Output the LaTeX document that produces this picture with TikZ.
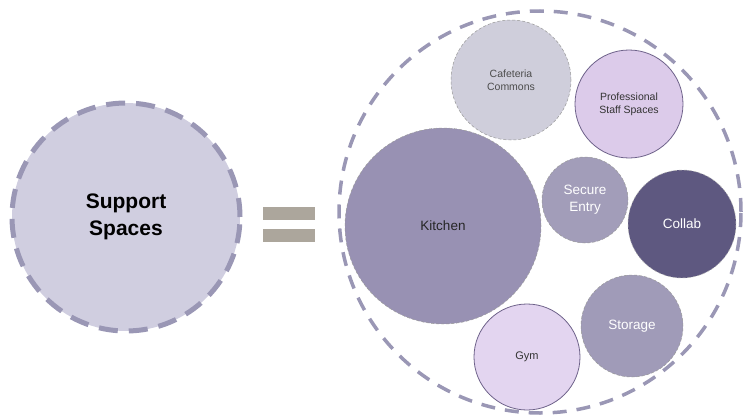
\documentclass[tikz,border=0pt]{standalone}
\usepackage{fontspec}
\setmainfont{Liberation Sans}
\usetikzlibrary{positioning}
\definecolor{ringpurple}{HTML}{9A97B5}
\definecolor{supportfill}{HTML}{D0CEE0}
\definecolor{eqgray}{HTML}{ACA69C}
\definecolor{edgepurple}{HTML}{6E628A}
\definecolor{cafefill}{HTML}{CFCEDB}
\definecolor{stafffill}{HTML}{DCCBEA}
\definecolor{kitchenfill}{HTML}{9891B3}
\definecolor{entryfill}{HTML}{A29DB9}
\definecolor{collabfill}{HTML}{5E5880}
\definecolor{storagefill}{HTML}{A09BB8}
\definecolor{gymfill}{HTML}{E3D5F0}
\begin{document}
\begin{tikzpicture}[x=1pt, y=-1pt,
    space/.style={circle, inner sep=0pt, align=center, font=\fontsize{10.5}{13}\selectfont},
    loose/.style={space, draw=gray!80, densely dashed, line width=0.5pt},
    solid edge/.style={space, draw=edgepurple, line width=0.8pt},
    big text/.style={font=\fontsize{13.5}{17}\selectfont},
    bar/.style={rectangle, fill=eqgray, inner sep=0pt, minimum width=52pt, minimum height=13pt}]
  \useasboundingbox (0,0) rectangle (744,420);
  % left side
  \node[circle, minimum size=228pt, fill=supportfill, draw=ringpurple, line width=5pt,
    dash pattern=on 19pt off 11pt, align=center, font=\fontsize{21}{27}\selectfont\bfseries]
    (support) at (126,217) {Support\\Spaces};
  \node[bar] (eqtop) at (289,213.5) {};
  \node[bar, below=9pt of eqtop] (eqbot) {};
  % right side
  \node[circle, minimum size=402pt, draw=ringpurple, line width=3.5pt,
    dash pattern=on 14pt off 10pt] (whole) at (540,212) {};
  \node[loose, minimum size=120pt, fill=cafefill, text=black!70]
    (cafeteria) at (511,80) {Cafeteria\\Commons};
  \node[solid edge, minimum size=108pt, fill=stafffill, text=black!80]
    (staff) at (629,104) {Professional\\Staff Spaces};
  \node[loose, minimum size=196pt, fill=kitchenfill, text=black!85, big text]
    (kitchen) at (443,226) {Kitchen};
  \node[loose, minimum size=86pt, fill=entryfill, text=white, big text]
    (entry) at (585,200) {Secure\\Entry};
  \node[loose, minimum size=108pt, fill=collabfill, draw=gray!60, text=white, big text]
    (collab) at (682,224) {Collab};
  \node[loose, minimum size=102pt, fill=storagefill, text=white, big text]
    (storage) at (632,326) {Storage};
  \node[solid edge, minimum size=106pt, fill=gymfill, text=black!80,
    font=\fontsize{11}{13}\selectfont] (gym) at (527,357) {Gym};
\end{tikzpicture}
\end{document}
